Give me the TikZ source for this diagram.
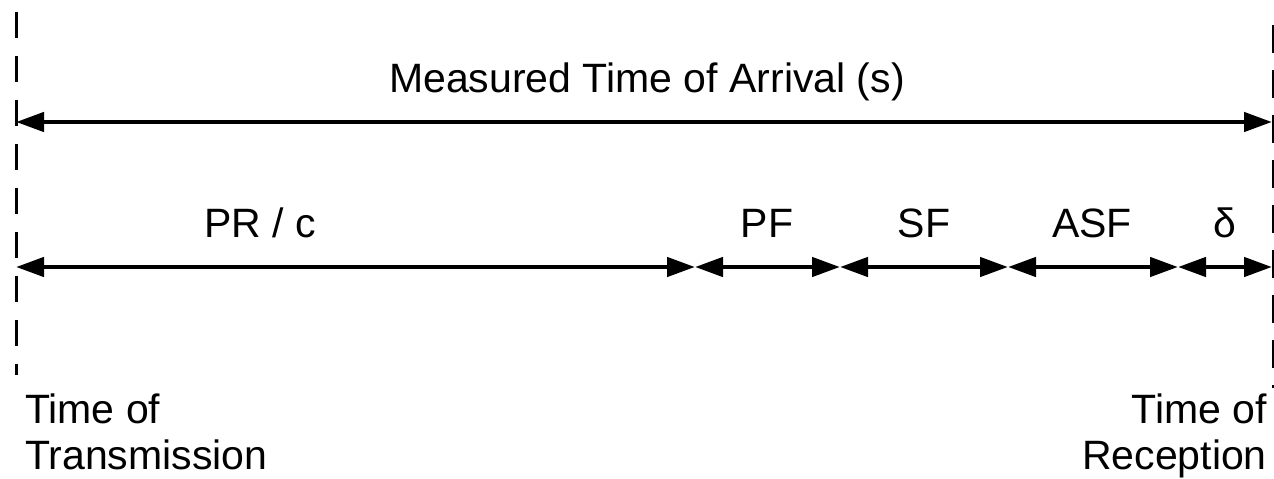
\documentclass[tikz,border=0pt]{standalone}
\usepackage{fontspec}
\setmainfont{Liberation Sans}
\usetikzlibrary{arrows.meta}
\begin{document}
\begin{tikzpicture}[x=1pt,y=-1pt,
  lbl/.style={inner sep=0pt, anchor=base, font=\fontsize{41}{48}\selectfont},
  span/.style={line width=4.5pt, {Triangle[length=28pt,width=19pt]}-{Triangle[length=28pt,width=19pt]}},
  marker/.style={dash pattern=on 26pt off 18pt}]
\useasboundingbox (0,0) rectangle (1274,479);

% time markers at transmission and reception
\coordinate (txtop) at (16,12);
\coordinate (txbot) at (16,375);
\coordinate (rxtop) at (1273,25);
\coordinate (rxbot) at (1273,388);
\draw[marker, line width=3pt] (txtop) -- (txbot);
\draw[marker, line width=1.5pt, dash pattern=on 28pt off 17pt] (rxtop) -- (rxbot);

% overall measured interval
\coordinate (m0) at (16,122);
\coordinate (m1) at (1272,122);
\draw[span] (m0) -- (m1);
\node[lbl] (mlabel) at (647,92) {Measured Time of Arrival (s)};

% component intervals
\coordinate (b0) at (16,267);
\coordinate (b1) at (695,267);
\coordinate (b2) at (840,267);
\coordinate (b3) at (1008,267);
\coordinate (b4) at (1178,267);
\coordinate (b5) at (1272,267);
\draw[span] (b0) -- (b1);
\draw[span] (b1) -- (b2);
\draw[span] (b2) -- (b3);
\draw[span] (b3) -- (b4);
\draw[span] (b4) -- (b5);

\node[lbl] (prc) at (260,237) {PR / c};
\node[lbl] (pf) at (767,237) {PF};
\node[lbl] (sf) at (924,237) {SF};
\node[lbl] (asf) at (1092,237) {ASF};
\node[lbl] (dl) at (1225,237) {δ};

% end labels
\node[lbl, anchor=base west] (tx1) at (25,423) {Time of};
\node[lbl, anchor=base west] (tx2) at (25,469) {Transmission};
\node[lbl, anchor=base east] (rx1) at (1267,423) {Time of};
\node[lbl, anchor=base east] (rx2) at (1267,469) {Reception};
\end{tikzpicture}
\end{document}
